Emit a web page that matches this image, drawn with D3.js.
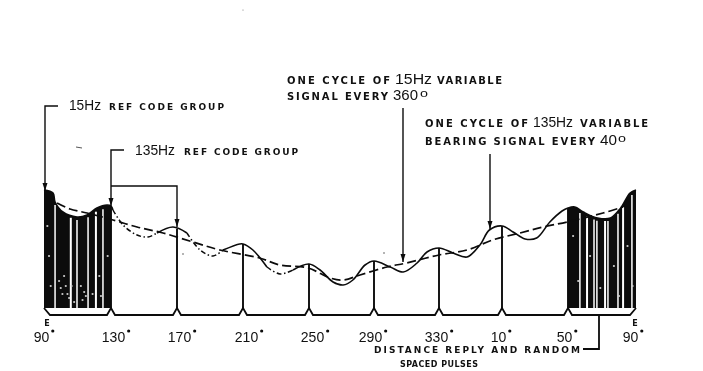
<!DOCTYPE html>
<html><head><meta charset="utf-8">
<script src="https://cdnjs.cloudflare.com/ajax/libs/d3/7.8.5/d3.min.js"></script>
<style>html,body{margin:0;padding:0;background:#fff}svg{display:block;filter:blur(.45px)}text{font-family:"DejaVu Sans",Arial,sans-serif;fill:#111}</style>
</head><body><svg id="c" width="703" height="371"></svg>
<script>
// bearing travelled from the start of the trace, degrees
const pulseDegrees = [0,40,80,120,160,200,240,280,320,360];
const tickLabels = ["90","130","170","210","250","290","330","10","50","90"];
const labelNudge = [-3,2,2,3,3,-4,-3,-4,-4,-6];
const envDeg = [0,5.4,6.6,11.3,19.7,25.7,31.6,37.6,40,41.2,47.3,55.8,62.4,67.9,77.6,86,94,101.8,107.9,118,120,126,134.5,142.4,150.3,160,166.8,174.8,181,187,194.5,200,210,218,226.5,232.6,240,248.9,257.8,266,272,280,286.7,294,301,309,316.4,320,324,329,337.4,345,351,356.5,360];
const envAmp = [126,123,114,104,99,101,108,111,110,106,91,81,79,83,89,83,66,60,66,72,72,66,49,42,46,52,46,34,31,36,51,55,49,44,53,64,68,63,59,71,86,90,84,77,78,94,105,108,109,104,98,98,108,123,126];
const slowDeg = [7.8,15.5,25.7,41.2,55.8,71.5,89.7,106,130,142.4,159.4,173,181,191.4,208,220,240,257.8,274,290.9,304.8,319.4,340.6,352.4];
const slowAmp = [113,107,103,96,89,83,74,66,58,51,48,38,36,41,49,53,61,66,76,83,89,94,103,109];
const dashDotRanges = [[41.2,67.9],[86,107.9],[134.5,150.3]];
const whiteLeft = [6.6,16,19.7,26.3,31,35.2];
const whiteRight = [327,331.2,335.3,337,341.8,343.5,349.4,352.4,357.6];
const speckDeg = [3,4,12,13,14,15,16.5,18,22,23,24,29,33,34,38,323,326,333,339,347,350,355,358,2,9,10,11,25];
const speckAmp = [60,30,40,30,22,18,30,14,30,16,24,22,40,20,60,80,35,60,28,50,20,70,30,90,35,28,22,20];
const blockStart = 0, blockEnd = 40, blockStart2 = 320, blockEnd2 = 360;
const pulseFloor = 8, baseLevel = 1;

const svg = d3.select("#c");
const x = d3.scaleLinear().domain(pulseDegrees).range([44,111,177,243,309,374,439,502,568,636]);
const y = d3.scaleLinear().domain([0,130]).range([316,186]);
const env = envDeg.map((d,i)=>({d,a:envAmp[i]}));
const slow = slowDeg.map((d,i)=>({d,a:slowAmp[i]}));
const inDD = p => dashDotRanges.some(r=>p.d>=r[0]&&p.d<=r[1]);
const inDDopen = p => dashDotRanges.some(r=>p.d>r[0]&&p.d<r[1]);
const curve = d3.curveCatmullRom.alpha(.5);
const line = d3.line().x(d=>x(d.d)).y(d=>y(d.a)).curve(curve);
const black="#0c0c0c";

// filled reference code groups
const area = d3.area().x(d=>x(d.d)).y1(d=>y(d.a)).y0(y(pulseFloor)).curve(curve);
[[blockStart,blockEnd],[blockStart2,blockEnd2]].forEach(r=>{
  svg.append("path").attr("d",area(env.filter(e=>e.d>=r[0]&&e.d<=r[1]))).attr("fill",black);
});
// white gaps between pulses
const ampAt = d3.scaleLinear().domain(envDeg).range(envAmp);
svg.selectAll(".gap").data(whiteLeft.concat(whiteRight)).join("line")
  .attr("x1",d=>x(d)).attr("x2",d=>x(d))
  .attr("y1",d=>y(ampAt(d)-3)).attr("y2",y(pulseFloor))
  .attr("stroke","#fff").attr("stroke-width",(d,i)=>i%3==1?2:1.5);
svg.selectAll(".speck").data(speckDeg).join("circle")
  .attr("cx",d=>x(d)).attr("cy",(d,i)=>y(speckAmp[i])).attr("r",1.1).attr("fill","#ccc");

// pulse lines
svg.selectAll(".pulse").data(pulseDegrees.slice(1,-1)).join("line")
  .attr("x1",d=>x(d)).attr("x2",d=>x(d))
  .attr("y1",d=>y(ampAt(d))).attr("y2",y(pulseFloor))
  .attr("stroke",black).attr("stroke-width",1.9);

// baseline with pulse feet
const foot = 4;
let b = d3.path();
b.moveTo(x(0),y(pulseFloor)); b.lineTo(x(0)+6,y(baseLevel));
pulseDegrees.slice(1,-1).forEach(d=>{
  b.lineTo(x(d)-foot,y(baseLevel)); b.lineTo(x(d),y(pulseFloor)); b.lineTo(x(d)+foot,y(baseLevel));
});
b.lineTo(x(360)-6,y(baseLevel)); b.lineTo(x(360),y(pulseFloor));
svg.append("path").attr("d",b.toString()).attr("fill","none").attr("stroke",black).attr("stroke-width",1.8);

// envelope: solid and dash-dot runs
svg.append("path").attr("d",line.defined(d=>!inDDopen(d))(env)).attr("fill","none").attr("stroke",black).attr("stroke-width",1.6);
svg.append("path").attr("d",line.defined(d=>inDD(d))(env)).attr("fill","none").attr("stroke",black).attr("stroke-width",1.5).attr("stroke-dasharray","5 2.5 1.5 2.5");
line.defined(()=>true);
// 15 Hz component
svg.append("path").attr("d",line(slow)).attr("fill","none").attr("stroke",black).attr("stroke-width",1.7).attr("stroke-dasharray","9 4");

// leaders
function arrow(px,py){
  svg.append("path").attr("d",`M${px-2.5},${py-8}L${px+2.5},${py-8}L${px},${py}Z`).attr("fill",black);
}
function lead(pts,tip){
  svg.append("path").attr("d",d3.line()(pts)).attr("fill","none").attr("stroke",black).attr("stroke-width",1.4);
  if(tip) arrow(pts[pts.length-1][0],pts[pts.length-1][1]);
}
lead([[58,106],[45,106],[45,191]],true);
lead([[124,150],[111,150],[111,206]],true);
lead([[111,186],[177,186],[177,227]],true);
lead([[403,108],[403,262]],true);
lead([[490,154],[490,229]],true);
svg.append("path").attr("d","M599,315V349H583").attr("fill","none").attr("stroke",black).attr("stroke-width",1.8);

// axis labels
const axis = d3.axisBottom(x).tickValues(pulseDegrees).tickSize(0).tickFormat((d,i)=>tickLabels[i]);
const ax = svg.append("g").attr("transform","translate(0,331)").call(axis);
ax.select(".domain").remove();
ax.selectAll("text").attr("font-size",14).attr("dy",0).attr("y",11)
  .attr("dx",(d,i)=>labelNudge[i]).style("font-family","'Liberation Sans',Arial,sans-serif").attr("fill","#111");
ax.selectAll("text").each(function(d,i){
  const w=this.getComputedTextLength();
  svg.append("circle").attr("cx",x(d)+labelNudge[i]+w/2+4).attr("cy",331).attr("r",1.6).attr("fill",black);
});
const endMark = "E";
[[47,326],[635,326]].forEach(p=>svg.append("text").attr("x",p[0]).attr("y",p[1]).attr("font-size",8).attr("font-weight",700).attr("text-anchor","middle").text(endMark));

// annotation text
function small(s,px,py,w,fs){
  svg.append("text").attr("x",px).attr("y",py).attr("font-size",fs||10).attr("font-weight",fs?700:600)
    .attr("textLength",w).attr("lengthAdjust","spacing").text(s);
}
function big(s,px,py,w,fs){
  svg.append("text").attr("x",px).attr("y",py).attr("font-size",fs||14)
    .style("font-family","'Liberation Sans',Arial,sans-serif")
    .attr("textLength",w).attr("lengthAdjust","spacingAndGlyphs").text(s);
}
big("15Hz",69,110,32); small("REF CODE GROUP",109,110,115,9);
big("135Hz",135,155,40); small("REF CODE GROUP",184,155,114,9);
small("ONE CYCLE OF",287,84,103); big("15Hz",395,84,37); small("VARIABLE",437,84,65);
small("SIGNAL EVERY",287,100,101); big("360",393,100,25); big("o",420,97,8,11);
small("ONE CYCLE OF",425,127,103); big("135Hz",533,127,40); small("VARIABLE",580,127,68);
small("BEARING SIGNAL EVERY",425,145,170); big("40",600,145,17); big("o",618,142,8,11);
small("DISTANCE REPLY AND RANDOM",374,353,206,9);
small("SPACED PULSES",400,367,78,8);

// scan marks
svg.append("line").attr("x1",76).attr("x2",82).attr("y1",147).attr("y2",148).attr("stroke","#555");
svg.append("circle").attr("cx",243).attr("cy",10).attr("r",.6).attr("fill","#777");
svg.append("circle").attr("cx",183).attr("cy",254).attr("r",.8).attr("fill","#555");
svg.append("circle").attr("cx",384).attr("cy",253).attr("r",.8).attr("fill","#555");
</script></body></html>
